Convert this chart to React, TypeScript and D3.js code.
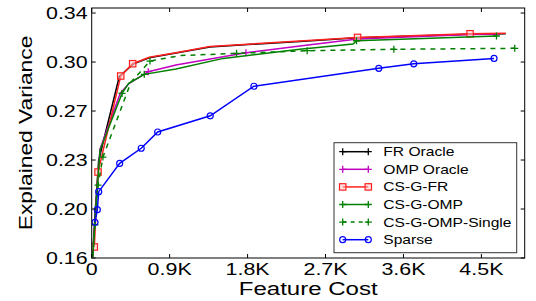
import React from "react";
import * as d3 from "d3";

// values
const frX = [10, 38, 80, 318, 477, 665, 1365, 2404, 3070, 4369, 4781];
const frY = [0.1607, 0.191, 0.2295, 0.2895, 0.2985, 0.3031, 0.3108, 0.3147, 0.3173, 0.3199, 0.3202];

const ompX = [10, 50, 96, 330, 434, 653, 973, 1781, 2404, 3070, 4366, 4712];
const ompY = [0.1607, 0.1985, 0.2378, 0.2778, 0.2848, 0.2931, 0.2979, 0.3067, 0.3114, 0.3164, 0.3196, 0.32];

const csfrX = [30, 73, 335, 473, 665, 973, 1365, 2404, 3070, 4369, 4781];
const csfrY = [0.1679, 0.2214, 0.29, 0.2988, 0.3034, 0.3067, 0.3111, 0.315, 0.3176, 0.3202, 0.3205];
const csfrMarks = [0, 1, 2, 3, 8, 9];

const csompX = [12, 50, 96, 350, 427, 607, 973, 1519, 2404, 3019, 3058, 4674];
const csompY = [0.1607, 0.1979, 0.2371, 0.2776, 0.2848, 0.2912, 0.295, 0.3026, 0.3091, 0.3129, 0.3152, 0.3186];
const csompMarks = [3, 5, 10, 11];

const singleX = [9, 38, 73, 130, 454, 673, 1019, 1673, 2488, 3489, 4885];
const singleY = [0.1607, 0.1836, 0.2121, 0.2321, 0.2857, 0.3007, 0.3046, 0.3062, 0.3081, 0.3091, 0.3098];
const singleMarks = [1, 2, 3, 5, 7, 8, 9, 10];

const sparseX = [38, 65, 81, 323, 572, 762, 1369, 1873, 3315, 3719, 4646];
const sparseY = [0.1855, 0.1945, 0.2074, 0.2276, 0.2384, 0.25, 0.2616, 0.2827, 0.2955, 0.2987, 0.3026];

const xTicks = [0, 900, 1800, 2700, 3600, 4500];
const xTickLabels = ["0", "0.9K", "1.8K", "2.7K", "3.6K", "4.5K"];
const yTicks = [0.16, 0.195, 0.23, 0.265, 0.3, 0.335];
const yTickLabels = ["0.16", "0.20", "0.23", "0.27", "0.30", "0.34"];

type Marker = "plus" | "square" | "circle";

const series = [
  { name: "FR Oracle", xs: frX, ys: frY, color: "#000000", marker: "plus" as Marker, marks: [] as number[], dash: "" },
  { name: "OMP Oracle", xs: ompX, ys: ompY, color: "#c000c0", marker: "plus" as Marker, marks: [5, 7], dash: "" },
  { name: "CS-G-FR", xs: csfrX, ys: csfrY, color: "#ff2020", marker: "square" as Marker, marks: csfrMarks, dash: "" },
  { name: "CS-G-OMP", xs: csompX, ys: csompY, color: "#008000", marker: "plus" as Marker, marks: csompMarks, dash: "" },
  { name: "CS-G-OMP-Single", xs: singleX, ys: singleY, color: "#008000", marker: "plus" as Marker, marks: singleMarks, dash: "5,5" },
  { name: "Sparse", xs: sparseX, ys: sparseY, color: "#0000ff", marker: "circle" as Marker, marks: sparseX.map((_, i) => i), dash: "" },
];

const FONT = "'Liberation Sans', Arial, Helvetica, sans-serif";
const SX = 1.3;

function MarkerShape({ kind, x, y, color }: { kind: Marker; x: number; y: number; color: string }) {
  if (kind === "plus")
    return (
      <path d={`M${x - 3.5},${y}H${x + 3.5}M${x},${y - 3.5}V${y + 3.5}`} stroke={color} strokeWidth={1.3} />
    );
  if (kind === "square")
    return <rect x={x - 3.2} y={y - 3.2} width={6.4} height={6.4} fill="#ffc8c8" fillOpacity={0.5} stroke={color} strokeWidth={1.2} />;
  return <circle cx={x} cy={y} r={3} fill="none" stroke={color} strokeWidth={1.2} />;
}

function SText({ x, y, size, anchor, children, rotate, sx = SX }: any) {
  const t = rotate
    ? `translate(${x},${y}) rotate(-90) scale(${sx},1)`
    : `translate(${x},${y}) scale(${sx},1)`;
  return (
    <text transform={t} fontSize={size} fontFamily={FONT} textAnchor={anchor} fill="#000">
      {children}
    </text>
  );
}

export default function App() {
  const width = 536;
  const height = 301;
  const left = 91.7, right = 524.7, top = 8, bottom = 258;

  const x = d3.scaleLinear().domain([0, 5000]).range([left, right]);
  const y = d3.scaleLinear().domain([0.16, 0.3386]).range([bottom, top]);

  const line = d3.line<[number, number]>().x((d) => x(d[0])).y((d) => y(d[1]));

  const legX = 334, legY = 142.7, legW = 182.7, legH = 110, rowH = 17.6;

  return (
    <div style={{ position: "fixed", left: 0, top: 0 }}>
      <svg width={width} height={height} style={{ display: "block", background: "#fff" }}>
        <defs>
          <clipPath id="plot">
            <rect x={left} y={top} width={right - left} height={bottom - top} />
          </clipPath>
        </defs>

        <g clipPath="url(#plot)">
          {series.map((s) => {
            const pts = s.xs.map((v, i) => [v, s.ys[i]] as [number, number]);
            return (
              <g key={s.name}>
                <path d={line(pts) || ""} fill="none" stroke={s.color} strokeWidth={1.5} strokeDasharray={s.dash} />
                {s.marks.map((i) => (
                  <MarkerShape key={i} kind={s.marker} x={x(pts[i][0])} y={y(pts[i][1])} color={s.color} />
                ))}
              </g>
            );
          })}
        </g>

        {/* frame and ticks */}
        <rect x={left} y={top} width={right - left} height={bottom - top} fill="none" stroke="#000" strokeWidth={1} />
        {xTicks.map((t, i) => (
          <g key={"xt" + i}>
            <line x1={x(t)} x2={x(t)} y1={bottom} y2={bottom - 4} stroke="#000" />
            <line x1={x(t)} x2={x(t)} y1={top} y2={top + 4} stroke="#000" />
            <SText x={x(t)} y={bottom + 17} size={16.5} anchor="middle">
              {xTickLabels[i]}
            </SText>
          </g>
        ))}
        {yTicks.map((t, i) => (
          <g key={"yt" + i}>
            <line x1={left} x2={left + 4} y1={y(t)} y2={y(t)} stroke="#000" />
            <line x1={right} x2={right - 4} y1={y(t)} y2={y(t)} stroke="#000" />
            <SText x={left - 4} y={y(t) + 6} size={16.5} anchor="end">
              {yTickLabels[i]}
            </SText>
          </g>
        ))}

        <SText x={(left + right) / 2} y={295} size={18.5} anchor="middle">
          Feature Cost
        </SText>
        <SText x={32} y={(top + bottom) / 2} size={19} anchor="middle" rotate sx={1.2}>
          Explained Variance
        </SText>

        {/* legend */}
        <rect x={legX} y={legY} width={legW} height={legH} fill="#fff" stroke="#333" strokeWidth={1} />
        {series.map((s, i) => {
          const ry = legY + 9 + i * rowH;
          const x1 = legX + 8.7, x2 = legX + 34.3;
          return (
            <g key={"leg" + s.name}>
              <line x1={x1} x2={x2} y1={ry} y2={ry} stroke={s.color} strokeWidth={1.5} strokeDasharray={s.dash ? "4,4" : ""} />
              <MarkerShape kind={s.marker} x={x1} y={ry} color={s.color} />
              <MarkerShape kind={s.marker} x={x2} y={ry} color={s.color} />
              <SText x={legX + 49.3} y={ry + 4.5} size={13} anchor="start" sx={1.2}>
                {s.name}
              </SText>
            </g>
          );
        })}
      </svg>
    </div>
  );
}
